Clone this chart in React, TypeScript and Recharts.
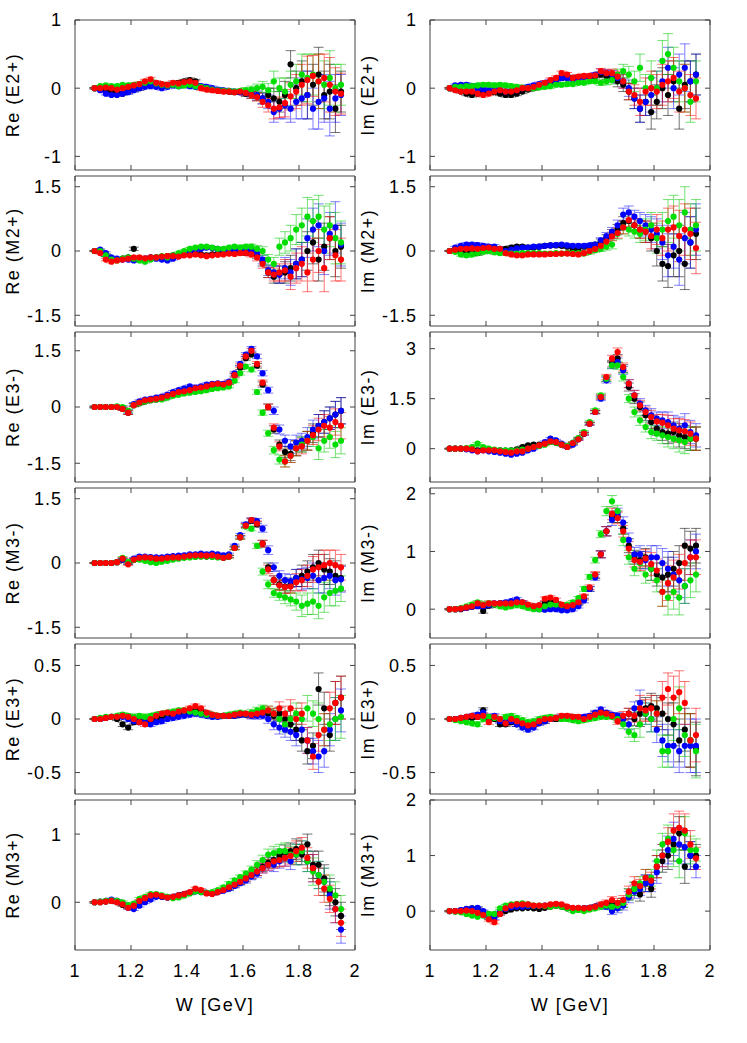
import { ScatterChart, Scatter, XAxis, YAxis, ErrorBar, ReferenceArea } from "recharts";

// W grid (GeV), shared by every panel
const W_GEV = [
  1.07, 1.09, 1.11, 1.13, 1.15, 1.17, 1.19, 1.21, 1.23, 1.25, 1.27, 1.29, 1.31, 1.33, 1.35,
  1.37, 1.39, 1.41, 1.43, 1.45, 1.47, 1.49, 1.51, 1.53, 1.55, 1.57, 1.59, 1.61, 1.63, 1.65,
  1.67, 1.69, 1.71, 1.73, 1.75, 1.77, 1.79, 1.81, 1.83, 1.85, 1.87, 1.89, 1.91, 1.93, 1.95,
];
const X_TICKS = [1, 1.2, 1.4, 1.6, 1.8, 2];

// ---- Re (E2+)
const reE2pBlack = [
  0, -0.02, -0.04, -0.05, -0.07, -0.08, -0.05, -0.02, 0.0, 0.05, 0.08, 0.06, 0.04, 0.05, 0.06,
  0.08, 0.1, 0.12, 0.1, 0.02, 0.0, -0.02, -0.03, -0.04, -0.05, -0.06, -0.06, -0.08, -0.1, -0.12,
  -0.15, -0.1, -0.15, -0.2, -0.1, 0.35, 0.0, 0.1, -0.1, 0.05, 0.2, -0.1, -0.05, -0.3, -0.05,
];
const reE2pBlue = [
  0, -0.03, -0.08, -0.1, -0.1, -0.08, -0.06, -0.03, 0.0, 0.02, 0.03, 0.02, 0.0, 0.02, 0.04,
  0.03, 0.05, 0.03, 0.02, 0.03, 0.02, 0.0, -0.02, -0.03, -0.04, -0.05, -0.06, -0.07, -0.08, -0.1,
  -0.15, -0.2, -0.35, -0.3, -0.25, -0.3, -0.2, -0.15, -0.1, -0.3, -0.2, -0.15, -0.3, -0.15, -0.1,
];
const reE2pGreen = [
  0, 0.03, 0.04, 0.03, 0.03, 0.05, 0.04, 0.05, 0.06, 0.08, 0.1, 0.07, 0.05, 0.04, 0.05,
  0.03, 0.04, 0.05, 0.03, 0.02, 0.0, -0.02, -0.03, -0.04, -0.04, -0.05, -0.04, -0.03, -0.02, 0.0,
  0.02, -0.03, 0.1, 0.0, -0.05, 0.05, 0.1, 0.2, 0.15, 0.2, 0.1, 0.05, 0.15, 0.0, 0.05,
];
const reE2pRed = [
  0, 0.0, 0.01, 0.0, -0.02, 0.0, 0.02, 0.04, 0.06, 0.1, 0.13, 0.08, 0.06, 0.05, 0.08,
  0.07, 0.09, 0.1, 0.08, 0.0, -0.02, -0.03, -0.04, -0.05, -0.05, -0.06, -0.05, -0.07, -0.1, -0.13,
  -0.2, -0.25, -0.3, -0.28, -0.22, -0.12, -0.05, 0.05, 0.12, 0.18, 0.1, 0.15, 0.05, -0.05, -0.08,
];
const reE2pErr = [
  0.01, 0.01, 0.02, 0.02, 0.02, 0.02, 0.03, 0.03, 0.03, 0.03, 0.03, 0.03, 0.03, 0.03, 0.03,
  0.03, 0.03, 0.03, 0.03, 0.03, 0.03, 0.03, 0.03, 0.03, 0.03, 0.03, 0.03, 0.04, 0.05, 0.06,
  0.08, 0.1, 0.15, 0.15, 0.2, 0.2, 0.25, 0.3, 0.35, 0.3, 0.4, 0.35, 0.4, 0.35, 0.3,
];

// ---- Re (M2+)
const reM2pBlack = [
  0, 0.0, -0.1, -0.18, -0.2, -0.18, -0.15, 0.05, -0.18, -0.2, -0.15, -0.15, -0.15, -0.12, -0.1,
  -0.1, -0.08, -0.05, -0.05, -0.08, -0.1, -0.08, -0.06, -0.05, -0.05, -0.05, -0.03, -0.05, -0.05, -0.1,
  -0.25, -0.5, -0.6, -0.55, -0.5, -0.4, -0.3, -0.2, 0.0, 0.2, -0.2, 0.1, 0.3, 0.0, 0.1,
];
const reM2pBlue = [
  0, 0.03, -0.05, -0.15, -0.18, -0.2, -0.2, -0.22, -0.2, -0.18, -0.15, -0.18, -0.2, -0.22, -0.18,
  -0.12, -0.08, -0.05, 0.02, 0.05, 0.08, 0.07, 0.05, 0.03, 0.03, 0.04, 0.03, 0.03, 0.02, -0.05,
  -0.2, -0.45, -0.5, -0.55, -0.4, -0.5, -0.3, -0.2, 0.3, 0.5, 0.6, 0.0, 0.4, 0.55, 0.15,
];
const reM2pGreen = [
  0, 0.0, -0.1, -0.2, -0.22, -0.18, -0.15, -0.18, -0.22, -0.25, -0.2, -0.15, -0.12, -0.15, -0.1,
  -0.05, 0.0, 0.05, 0.08, 0.1, 0.1, 0.08, 0.05, 0.05, 0.08, 0.1, 0.08, 0.1, 0.1, 0.05,
  0.0, -0.2, -0.3, 0.1, 0.2, 0.3, 0.5, 0.6, 0.8, 0.7, 0.8, 0.5, 0.6, 0.3, 0.2,
];
const reM2pRed = [
  0, -0.05, -0.2, -0.25, -0.22, -0.2, -0.18, -0.15, -0.15, -0.17, -0.15, -0.15, -0.13, -0.12, -0.12,
  -0.13, -0.1, -0.1, -0.08, -0.1, -0.12, -0.1, -0.09, -0.08, -0.06, -0.07, -0.05, -0.05, -0.08, -0.15,
  -0.3, -0.5, -0.55, -0.5, -0.45, -0.6, -0.4, -0.3, -0.5, -0.2, 0.0, -0.4, 0.3, -0.1, -0.2,
];
const reM2pErr = [
  0.01, 0.02, 0.03, 0.03, 0.03, 0.03, 0.03, 0.04, 0.03, 0.03, 0.03, 0.03, 0.03, 0.03, 0.03,
  0.03, 0.03, 0.03, 0.03, 0.03, 0.03, 0.03, 0.03, 0.03, 0.03, 0.04, 0.04, 0.05, 0.06, 0.08,
  0.1, 0.12, 0.15, 0.2, 0.25, 0.3, 0.35, 0.4, 0.45, 0.5, 0.5, 0.55, 0.5, 0.6, 0.5,
];

// ---- Re (E3-)
const reE3mBlack = [
  0, 0, 0, 0, 0.0, -0.05, -0.15, 0.05, 0.1, 0.15, 0.18, 0.2, 0.22, 0.28, 0.33,
  0.38, 0.4, 0.43, 0.48, 0.5, 0.52, 0.56, 0.58, 0.6, 0.65, 0.85, 1.05, 1.3, 1.4, 1.1,
  0.6, 0.0, -0.6, -1.0, -1.2, -1.25, -1.1, -1.0, -0.9, -0.7, -0.5, -0.4, -0.3, -0.2, -0.1,
];
const reE3mBlue = [
  0, 0, 0, 0, 0.0, -0.02, -0.12, 0.08, 0.15, 0.2, 0.22, 0.25, 0.28, 0.33, 0.4,
  0.45, 0.5, 0.55, 0.52, 0.55, 0.6, 0.62, 0.63, 0.62, 0.68, 0.9, 1.15, 1.4, 1.55, 1.35,
  0.9, 0.45, -0.1, -0.6, -0.9, -1.05, -0.95, -0.9, -0.8, -0.6, -0.5, -0.4, -0.3, -0.2, -0.1,
];
const reE3mGreen = [
  0, 0, 0, 0, 0.02, 0.0, -0.1, 0.05, 0.1, 0.15, 0.18, 0.2, 0.2, 0.25, 0.3,
  0.33, 0.36, 0.38, 0.4, 0.42, 0.45, 0.48, 0.5, 0.52, 0.55, 0.7, 0.9, 1.08, 1.0, 0.4,
  -0.15, -0.7, -1.15, -1.4, -1.45, -1.3, -1.1, -1.0, -0.9, -0.8, -1.1, -0.9, -0.8, -1.0, -0.9,
];
const reE3mRed = [
  0, 0, 0, 0, 0.0, -0.05, -0.15, 0.05, 0.12, 0.18, 0.2, 0.22, 0.25, 0.3, 0.35,
  0.4, 0.42, 0.45, 0.5, 0.52, 0.55, 0.6, 0.62, 0.6, 0.65, 0.85, 1.1, 1.35, 1.5, 1.15,
  0.65, 0.0, -0.55, -1.05, -1.45, -1.3, -1.1, -1.05, -0.9, -0.75, -0.6, -0.5, -0.55, -0.4, -0.5,
];
const reE3mErr = [
  0.02, 0.02, 0.02, 0.02, 0.03, 0.04, 0.05, 0.04, 0.04, 0.04, 0.04, 0.04, 0.04, 0.04, 0.04,
  0.04, 0.04, 0.04, 0.04, 0.04, 0.04, 0.04, 0.04, 0.04, 0.04, 0.05, 0.05, 0.05, 0.06, 0.06,
  0.07, 0.08, 0.1, 0.12, 0.15, 0.18, 0.2, 0.2, 0.25, 0.25, 0.3, 0.3, 0.3, 0.35, 0.35,
];

// ---- Re (M3-)
const reM3mBlack = [
  0, 0, 0, 0, 0.02, 0.08, 0.0, 0.07, 0.1, 0.1, 0.1, 0.08, 0.08, 0.1, 0.12,
  0.12, 0.14, 0.15, 0.16, 0.16, 0.15, 0.16, 0.14, 0.12, 0.15, 0.35, 0.6, 0.88, 0.98, 0.9,
  0.45, -0.1, -0.4, -0.5, -0.55, -0.5, -0.35, -0.3, -0.2, -0.1, 0.0, -0.15, -0.2, -0.3, -0.35,
];
const reM3mBlue = [
  0, 0, 0, 0, 0.02, 0.08, 0.0, 0.1, 0.15, 0.15, 0.14, 0.13, 0.13, 0.15, 0.16,
  0.17, 0.18, 0.2, 0.2, 0.22, 0.2, 0.22, 0.2, 0.18, 0.2, 0.4, 0.65, 0.9, 1.0, 0.98,
  0.8, 0.3, -0.1, -0.3, -0.4, -0.42, -0.35, -0.38, -0.35, -0.3, -0.4, -0.35, -0.3, -0.4, -0.38,
];
const reM3mGreen = [
  0, 0, 0, 0, 0.02, 0.12, 0.02, 0.07, 0.08, 0.05, 0.02, 0.0, 0.03, 0.05, 0.08,
  0.1, 0.12, 0.13, 0.14, 0.15, 0.15, 0.14, 0.13, 0.12, 0.15, 0.35, 0.6, 0.85, 0.8, 0.4,
  -0.2, -0.5, -0.7, -0.75, -0.8, -0.85, -0.9, -1.0, -0.95, -0.9, -1.0, -0.8, -0.7, -0.65, -0.6,
];
const reM3mRed = [
  0, 0, 0, 0, 0.02, 0.1, -0.03, 0.08, 0.12, 0.13, 0.12, 0.1, 0.1, 0.12, 0.13,
  0.13, 0.15, 0.17, 0.18, 0.18, 0.17, 0.18, 0.15, 0.12, 0.15, 0.35, 0.6, 0.87, 1.0, 0.92,
  0.45, -0.15, -0.4, -0.52, -0.56, -0.55, -0.45, -0.4, -0.3, -0.15, -0.1, -0.05, 0.0, -0.05, -0.1,
];
const reM3mErr = [
  0.01, 0.01, 0.01, 0.02, 0.02, 0.03, 0.03, 0.03, 0.03, 0.03, 0.03, 0.03, 0.03, 0.03, 0.03,
  0.03, 0.03, 0.03, 0.03, 0.03, 0.03, 0.03, 0.03, 0.03, 0.03, 0.04, 0.04, 0.05, 0.05, 0.06,
  0.08, 0.1, 0.1, 0.12, 0.15, 0.15, 0.2, 0.25, 0.25, 0.3, 0.3, 0.35, 0.3, 0.35, 0.3,
];

// ---- Re (E3+)
const reE3pBlack = [
  0, 0.0, 0.01, 0.02, 0.0, -0.05, -0.08, -0.03, -0.02, -0.03, -0.02, 0.0, 0.02, 0.03, 0.04,
  0.05, 0.06, 0.07, 0.08, 0.07, 0.05, 0.03, 0.03, 0.03, 0.03, 0.03, 0.04, 0.04, 0.04, 0.05,
  0.06, 0.05, 0.03, 0.05, 0.0, -0.05, -0.1, -0.2, -0.3, -0.25, 0.28, 0.1, -0.15, 0.15, 0.2,
];
const reE3pBlue = [
  0, 0.0, 0.01, 0.02, 0.02, 0.02, 0.0, -0.02, -0.03, -0.03, -0.05, -0.03, -0.02, 0.0, 0.01,
  0.02, 0.03, 0.04, 0.05, 0.04, 0.03, 0.02, 0.02, 0.03, 0.03, 0.03, 0.04, 0.04, 0.03, 0.03,
  0.03, 0.0, -0.05, -0.08, -0.1, -0.12, -0.15, -0.1, -0.2, -0.3, -0.35, -0.3, -0.1, 0.0, 0.08,
];
const reE3pGreen = [
  0, 0.01, 0.02, 0.02, 0.03, 0.04, 0.03, 0.02, 0.03, 0.02, 0.03, 0.04, 0.05, 0.06, 0.07,
  0.08, 0.08, 0.07, 0.06, 0.05, 0.04, 0.04, 0.03, 0.03, 0.04, 0.05, 0.06, 0.05, 0.06, 0.08,
  0.1, 0.08, 0.05, 0.0, -0.05, 0.0, 0.05, 0.0, 0.1, 0.05, 0.0, -0.1, -0.05, 0.0, 0.02,
];
const reE3pRed = [
  0, 0.0, 0.01, 0.02, 0.02, 0.03, 0.02, 0.0, -0.03, -0.05, 0.0, 0.03, 0.05, 0.06, 0.05,
  0.07, 0.08, 0.1, 0.12, 0.1, 0.06, 0.04, 0.03, 0.03, 0.03, 0.04, 0.05, 0.05, 0.04, 0.05,
  0.06, 0.08, 0.05, 0.1, 0.05, 0.1, 0.0, 0.05, -0.2, -0.35, -0.15, -0.1, 0.1, 0.15, 0.2,
];
const reE3pErr = [
  0.005, 0.01, 0.01, 0.01, 0.015, 0.02, 0.02, 0.02, 0.02, 0.02, 0.02, 0.02, 0.02, 0.02, 0.02,
  0.02, 0.02, 0.02, 0.02, 0.02, 0.02, 0.02, 0.02, 0.02, 0.02, 0.02, 0.02, 0.02, 0.03, 0.03,
  0.03, 0.04, 0.05, 0.06, 0.07, 0.08, 0.1, 0.1, 0.12, 0.12, 0.15, 0.15, 0.15, 0.2, 0.2,
];

// ---- Re (M3+)
const reM3pBlack = [
  0, 0.0, 0.01, 0.02, 0.0, -0.04, -0.07, -0.05, 0.0, 0.04, 0.08, 0.1, 0.08, 0.07, 0.08,
  0.1, 0.12, 0.14, 0.17, 0.16, 0.14, 0.13, 0.15, 0.18, 0.21, 0.25, 0.29, 0.34, 0.39, 0.45,
  0.52, 0.58, 0.62, 0.68, 0.72, 0.75, 0.78, 0.7, 0.85, 0.55, 0.55, 0.35, 0.15, 0.0, -0.2,
];
const reM3pBlue = [
  0, 0.01, 0.02, 0.04, 0.02, -0.02, -0.08, -0.1, -0.05, 0.0, 0.04, 0.08, 0.08, 0.07, 0.08,
  0.1, 0.12, 0.14, 0.16, 0.15, 0.14, 0.13, 0.15, 0.17, 0.2, 0.24, 0.28, 0.32, 0.38, 0.42,
  0.5, 0.55, 0.55, 0.6, 0.65, 0.6, 0.7, 0.75, 0.6, 0.5, 0.4, 0.3, 0.1, -0.1, -0.4,
];
const reM3pGreen = [
  0, 0.01, 0.02, 0.03, 0.02, 0.0, -0.04, -0.02, 0.05, 0.08, 0.12, 0.12, 0.1, 0.08, 0.06,
  0.07, 0.1, 0.13, 0.16, 0.15, 0.14, 0.15, 0.18, 0.22, 0.27, 0.32, 0.37, 0.42, 0.48, 0.55,
  0.62, 0.7, 0.72, 0.75, 0.75, 0.7, 0.7, 0.75, 0.6, 0.45, 0.4, 0.3, 0.2, 0.1, -0.1,
];
const reM3pRed = [
  0, 0.0, 0.01, 0.02, 0.0, -0.03, -0.08, -0.05, 0.02, 0.06, 0.1, 0.11, 0.09, 0.07, 0.08,
  0.1, 0.12, 0.15, 0.2, 0.18, 0.13, 0.12, 0.15, 0.18, 0.22, 0.26, 0.3, 0.35, 0.4, 0.45,
  0.5, 0.55, 0.6, 0.62, 0.65, 0.68, 0.75, 0.8, 0.65, 0.5, 0.3, 0.2, 0.05, -0.1, -0.3,
];
const reM3pErr = [
  0.01, 0.01, 0.01, 0.02, 0.02, 0.02, 0.02, 0.02, 0.02, 0.02, 0.02, 0.02, 0.02, 0.02, 0.02,
  0.02, 0.02, 0.02, 0.02, 0.02, 0.02, 0.02, 0.02, 0.02, 0.03, 0.03, 0.03, 0.04, 0.05, 0.06,
  0.07, 0.08, 0.1, 0.1, 0.12, 0.12, 0.15, 0.15, 0.15, 0.2, 0.2, 0.2, 0.2, 0.2, 0.2,
];

// ---- Im (E2+)
const imE2pBlack = [
  0, -0.02, -0.05, -0.08, -0.1, -0.08, -0.06, -0.05, -0.06, -0.08, -0.1, -0.1, -0.08, -0.05, -0.02,
  0.0, 0.03, 0.06, 0.08, 0.12, 0.15, 0.16, 0.15, 0.16, 0.17, 0.17, 0.18, 0.2, 0.18, 0.15,
  0.1, 0.05, -0.05, -0.15, -0.3, -0.2, -0.35, -0.2, 0.0, -0.1, 0.1, -0.3, 0.05, 0.1, 0.2,
];
const imE2pBlue = [
  0, 0.04, 0.05, 0.05, 0.03, 0.0, -0.02, -0.03, -0.02, -0.03, -0.05, -0.04, -0.03, 0.0, 0.02,
  0.04, 0.06, 0.08, 0.1, 0.12, 0.15, 0.15, 0.13, 0.15, 0.17, 0.17, 0.2, 0.24, 0.22, 0.2,
  0.15, 0.1, 0.0, -0.15, -0.3, -0.2, -0.1, 0.0, 0.1, 0.3, 0.0, 0.2, 0.3, 0.1, 0.2,
];
const imE2pGreen = [
  0, 0.02, 0.02, 0.03, 0.03, 0.04, 0.05, 0.05, 0.04, 0.05, 0.04, 0.03, 0.02, 0.01, 0.0,
  0.0, 0.01, 0.02, 0.03, 0.05, 0.05, 0.06, 0.06, 0.08, 0.08, 0.1, 0.1, 0.08, 0.1, 0.12,
  0.2, 0.25, 0.2, 0.1, 0.3, 0.0, 0.15, 0.0, 0.4, 0.5, 0.3, 0.1, 0.0, -0.2, 0.1,
];
const imE2pRed = [
  0, -0.03, -0.05, -0.05, -0.05, -0.08, -0.1, -0.08, -0.05, -0.03, -0.05, -0.05, -0.03, 0.0, 0.0,
  0.02, 0.05, 0.08, 0.12, 0.15, 0.22, 0.2, 0.15, 0.17, 0.18, 0.18, 0.19, 0.25, 0.22, 0.22,
  0.17, 0.1, -0.05, -0.1, -0.2, -0.05, 0.0, -0.05, 0.05, 0.1, 0.15, -0.05, 0.0, -0.1, -0.15,
];
const imE2pErr = [
  0.01, 0.02, 0.02, 0.03, 0.03, 0.03, 0.03, 0.03, 0.03, 0.03, 0.03, 0.03, 0.03, 0.03, 0.03,
  0.03, 0.03, 0.03, 0.03, 0.03, 0.03, 0.03, 0.03, 0.03, 0.03, 0.03, 0.03, 0.04, 0.05, 0.06,
  0.08, 0.1, 0.12, 0.15, 0.2, 0.2, 0.25, 0.25, 0.3, 0.3, 0.3, 0.3, 0.35, 0.3, 0.3,
];

// ---- Im (M2+)
const imM2pBlack = [
  0, 0.0, -0.02, -0.03, -0.05, -0.05, 0.0, 0.02, 0.03, 0.04, 0.05, 0.08, 0.1, 0.1, 0.08,
  0.08, 0.1, 0.12, 0.13, 0.13, 0.12, 0.1, 0.05, 0.05, 0.1, 0.12, 0.15, 0.22, 0.3, 0.4,
  0.5, 0.65, 0.7, 0.6, 0.5, 0.45, 0.3, 0.0, -0.3, -0.35, -0.1, 0.0, -0.3, 0.2, 0.4,
];
const imM2pBlue = [
  0, 0.08, 0.12, 0.15, 0.15, 0.14, 0.12, 0.1, 0.1, 0.05, 0.0, 0.03, 0.06, 0.08, 0.08,
  0.1, 0.1, 0.12, 0.13, 0.14, 0.15, 0.13, 0.12, 0.12, 0.12, 0.13, 0.15, 0.25, 0.35, 0.45,
  0.6, 0.85, 0.9, 0.8, 0.7, 0.6, 0.5, 0.4, 0.2, -0.1, 0.1, -0.2, 0.3, 0.2, 0.5,
];
const imM2pGreen = [
  0, -0.02, -0.08, -0.1, -0.08, -0.05, -0.02, 0.0, -0.03, -0.05, -0.05, -0.06, -0.06, -0.05, -0.05,
  -0.05, -0.05, -0.06, -0.06, -0.05, -0.06, -0.05, -0.05, -0.05, -0.06, -0.02, 0.02, 0.05, 0.1, 0.15,
  0.4, 0.55, 0.5, 0.45, 0.4, 0.5, 0.6, 0.3, 0.5, 0.7, 0.8, 0.6, 0.9, 0.5, 0.6,
];
const imM2pRed = [
  0, 0.03, 0.05, 0.05, 0.06, 0.05, 0.07, 0.08, 0.05, 0.05, -0.05, -0.08, -0.1, -0.1, -0.08,
  -0.08, -0.08, -0.08, -0.07, -0.07, -0.06, -0.06, -0.07, -0.08, -0.05, 0.0, 0.05, 0.12, 0.22, 0.34,
  0.42, 0.55, 0.72, 0.6, 0.5, 0.45, 0.35, 0.5, 0.3, 0.5, 0.55, 0.35, 0.5, 0.4, 0.07,
];
const imM2pErr = [
  0.01, 0.03, 0.04, 0.05, 0.05, 0.05, 0.05, 0.05, 0.05, 0.04, 0.04, 0.04, 0.04, 0.04, 0.04,
  0.04, 0.04, 0.04, 0.04, 0.04, 0.04, 0.04, 0.04, 0.04, 0.04, 0.05, 0.05, 0.06, 0.08, 0.1,
  0.12, 0.15, 0.15, 0.15, 0.2, 0.25, 0.3, 0.35, 0.4, 0.5, 0.5, 0.6, 0.6, 0.6, 0.6,
];

// ---- Im (E3-)
const imE3mBlack = [
  0, 0, 0, 0.0, -0.02, -0.05, -0.03, -0.03, -0.05, -0.05, -0.06, -0.05, -0.02, 0.05, 0.1,
  0.12, 0.12, 0.15, 0.2, 0.18, 0.12, 0.06, 0.15, 0.3, 0.45, 0.75, 1.1, 1.55, 2.1, 2.55,
  2.7, 2.4, 1.85, 1.5, 1.25, 1.0, 0.8, 0.6, 0.5, 0.45, 0.5, 0.4, 0.35, 0.3, 0.3,
];
const imE3mBlue = [
  0, 0, 0, -0.02, -0.05, -0.08, -0.05, -0.08, -0.1, -0.12, -0.15, -0.18, -0.15, -0.12, -0.05,
  0.0, 0.08, 0.2, 0.3, 0.25, 0.15, 0.05, 0.12, 0.28, 0.45, 0.75, 1.1, 1.5, 2.05, 2.5,
  2.6, 2.35, 1.95, 1.6, 1.35, 1.15, 1.0, 0.9, 0.85, 0.8, 0.7, 0.6, 0.7, 0.5, 0.4,
];
const imE3mGreen = [
  0, 0, 0, 0.02, 0.05, 0.15, 0.05, 0.0, -0.03, -0.05, -0.05, -0.06, -0.05, -0.03, 0.0,
  0.05, 0.08, 0.12, 0.2, 0.18, 0.12, 0.08, 0.18, 0.32, 0.5, 0.8, 1.15, 1.6, 2.1, 2.5,
  2.5, 2.15, 1.5, 1.1, 0.85, 0.65, 0.5, 0.45, 0.4, 0.35, 0.3, 0.25, 0.2, 0.3, 0.3,
];
const imE3mRed = [
  0, 0, 0, 0.0, -0.02, -0.08, -0.05, -0.05, -0.05, -0.08, -0.1, -0.12, -0.08, -0.08, 0.0,
  0.05, 0.1, 0.15, 0.22, 0.2, 0.12, 0.05, 0.17, 0.28, 0.45, 0.75, 1.1, 1.55, 2.15, 2.7,
  2.9, 2.45, 1.95, 1.6, 1.3, 1.1, 0.95, 0.82, 0.78, 0.7, 0.6, 0.55, 0.52, 0.45, 0.3,
];
const imE3mErr = [
  0.01, 0.01, 0.01, 0.02, 0.02, 0.03, 0.03, 0.03, 0.03, 0.03, 0.03, 0.03, 0.03, 0.03, 0.03,
  0.03, 0.03, 0.03, 0.03, 0.03, 0.03, 0.03, 0.03, 0.03, 0.04, 0.04, 0.05, 0.06, 0.08, 0.1,
  0.12, 0.12, 0.12, 0.15, 0.15, 0.15, 0.2, 0.2, 0.25, 0.3, 0.3, 0.35, 0.35, 0.35, 0.35,
];

// ---- Im (M3-)
const imM3mBlack = [
  0, 0.0, 0.0, 0.02, 0.04, 0.06, -0.03, 0.06, 0.08, 0.1, 0.1, 0.11, 0.13, 0.1, 0.06,
  0.05, 0.05, 0.1, 0.12, 0.1, 0.06, 0.04, 0.05, 0.1, 0.2, 0.35, 0.58, 0.95, 1.35, 1.6,
  1.6, 1.4, 1.1, 0.9, 0.85, 0.9, 0.7, 0.6, 0.55, 0.6, 0.7, 0.8, 1.1, 1.05, 1.1,
];
const imM3mBlue = [
  0, 0.0, 0.01, 0.02, 0.04, 0.05, 0.05, 0.07, 0.1, 0.1, 0.12, 0.14, 0.17, 0.12, 0.05,
  0.03, 0.0, -0.01, 0.0, 0.0, -0.02, -0.02, 0.0, 0.05, 0.15, 0.35, 0.55, 0.95, 1.35, 1.55,
  1.65, 1.5, 1.2, 0.95, 0.95, 0.85, 0.9, 0.9, 0.8, 0.7, 0.6, 0.5, 0.4, 0.9, 1.0,
];
const imM3mGreen = [
  0, 0.0, 0.02, 0.05, 0.08, 0.12, 0.08, 0.1, 0.08, 0.05, 0.03, 0.05, 0.07, 0.05, 0.02,
  0.0, 0.0, 0.05, 0.08, 0.08, 0.07, 0.08, 0.12, 0.19, 0.35, 0.56, 0.85, 1.3, 1.7, 1.87,
  1.7, 1.2, 0.9, 0.7, 0.8, 0.6, 0.7, 0.5, 0.3, 0.2, 0.3, 0.2, 0.4, 0.5, 0.6,
];
const imM3mRed = [
  0, 0.0, 0.01, 0.03, 0.05, 0.1, 0.07, 0.1, 0.1, 0.1, 0.1, 0.1, 0.12, 0.12, 0.08,
  0.05, 0.07, 0.18, 0.2, 0.16, 0.08, 0.05, 0.07, 0.12, 0.22, 0.38, 0.6, 0.95, 1.35, 1.65,
  1.58, 1.35, 1.05, 0.85, 0.82, 0.88, 0.78, 0.67, 0.3, 0.45, 0.55, 0.65, 0.8, 0.9, 0.9,
];
const imM3mErr = [
  0.01, 0.01, 0.02, 0.02, 0.03, 0.03, 0.04, 0.04, 0.03, 0.03, 0.03, 0.03, 0.03, 0.03, 0.03,
  0.03, 0.03, 0.03, 0.03, 0.03, 0.03, 0.03, 0.03, 0.03, 0.04, 0.04, 0.05, 0.06, 0.08, 0.1,
  0.1, 0.1, 0.12, 0.12, 0.15, 0.15, 0.2, 0.2, 0.25, 0.3, 0.3, 0.3, 0.3, 0.3, 0.3,
];

// ---- Im (E3+)
const imE3pBlack = [
  0, 0.0, 0.0, 0.01, 0.01, 0.02, 0.08, 0.01, 0.0, -0.05, -0.05, -0.03, -0.05, -0.05, -0.07,
  -0.05, -0.03, -0.02, 0.0, 0.0, 0.01, 0.02, 0.02, 0.01, 0.01, 0.02, 0.05, 0.06, 0.04, 0.03,
  0.02, 0.0, 0.05, 0.0, 0.05, 0.1, 0.12, 0.1, 0.05, 0.0, -0.05, -0.2, -0.1, -0.2, -0.28,
];
const imE3pBlue = [
  0, 0.0, 0.01, 0.02, 0.03, 0.04, 0.06, 0.02, 0.03, -0.02, -0.03, -0.02, -0.05, -0.08, -0.1,
  -0.08, -0.04, -0.02, 0.0, 0.01, 0.02, 0.02, 0.01, 0.01, 0.02, 0.03, 0.06, 0.09, 0.06, 0.04,
  0.03, 0.0, -0.05, 0.1, 0.15, 0.05, 0.0, -0.1, -0.2, -0.25, -0.25, -0.3, -0.25, -0.25, -0.25,
];
const imE3pGreen = [
  0, -0.01, -0.02, -0.03, -0.04, -0.05, 0.0, 0.02, 0.01, 0.0, 0.02, 0.03, 0.01, -0.01, -0.03,
  -0.02, 0.0, 0.01, 0.02, 0.01, 0.0, 0.0, -0.01, -0.02, -0.01, 0.0, 0.01, 0.02, 0.02, 0.02,
  0.0, -0.05, -0.12, -0.15, -0.05, 0.05, 0.0, 0.05, -0.3, -0.3, 0.0, 0.1, -0.15, -0.2, -0.3,
];
const imE3pRed = [
  0, 0.0, 0.01, 0.02, 0.03, 0.02, 0.03, -0.03, 0.02, 0.0, -0.04, 0.0, -0.02, -0.04, -0.06,
  -0.05, -0.02, 0.0, 0.0, 0.01, 0.03, 0.03, 0.02, 0.02, 0.0, 0.02, 0.04, 0.06, 0.05, 0.03,
  -0.02, 0.03, 0.05, 0.03, 0.1, 0.08, 0.1, 0.05, 0.2, 0.28, 0.2, 0.25, 0.15, -0.2, -0.15,
];
const imE3pErr = [
  0.005, 0.01, 0.01, 0.01, 0.015, 0.02, 0.025, 0.02, 0.02, 0.02, 0.02, 0.02, 0.02, 0.02, 0.02,
  0.02, 0.02, 0.02, 0.02, 0.02, 0.02, 0.02, 0.02, 0.02, 0.02, 0.02, 0.02, 0.02, 0.02, 0.02,
  0.03, 0.04, 0.05, 0.06, 0.12, 0.1, 0.12, 0.12, 0.15, 0.15, 0.2, 0.2, 0.2, 0.25, 0.25,
];

// ---- Im (M3+)
const imM3pBlack = [
  0, 0.0, 0.01, 0.03, 0.05, 0.05, -0.02, -0.12, -0.08, -0.05, 0.0, 0.03, 0.05, 0.05, 0.06,
  0.05, 0.04, 0.06, 0.08, 0.1, 0.08, 0.05, 0.04, 0.05, 0.05, 0.06, 0.08, 0.1, 0.12, 0.12,
  0.1, 0.15, 0.3, 0.4, 0.3, 0.5, 0.4, 0.8, 0.9, 1.0, 1.2, 1.4, 0.8, 1.0, 1.0,
];
const imM3pBlue = [
  0, 0.0, 0.02, 0.04, 0.05, 0.06, 0.0, -0.1, -0.12, -0.02, 0.04, 0.07, 0.08, 0.08, 0.09,
  0.09, 0.09, 0.1, 0.11, 0.12, 0.1, 0.07, 0.05, 0.05, 0.05, 0.06, 0.08, 0.1, 0.08, 0.0,
  0.05, 0.1, 0.25, 0.35, 0.4, 0.5, 0.5, 0.7, 1.0, 1.1, 1.3, 1.2, 1.15, 1.0, 0.8,
];
const imM3pGreen = [
  0, -0.01, -0.02, -0.05, -0.08, -0.1, -0.08, -0.05, -0.05, 0.05, 0.1, 0.12, 0.13, 0.14, 0.12,
  0.1, 0.1, 0.09, 0.08, 0.1, 0.08, 0.05, 0.0, 0.02, 0.0, 0.03, 0.05, 0.08, 0.1, 0.08,
  0.1, 0.15, 0.3, 0.4, 0.5, 0.6, 0.6, 0.9, 1.2, 1.3, 1.1, 0.9, 1.4, 1.1, 1.1,
];
const imM3pRed = [
  0, 0.0, 0.0, 0.01, 0.0, -0.03, -0.07, -0.15, -0.2, -0.05, 0.05, 0.1, 0.12, 0.12, 0.12,
  0.1, 0.1, 0.1, 0.12, 0.13, 0.12, 0.08, 0.06, 0.06, 0.05, 0.06, 0.08, 0.12, 0.15, 0.2,
  0.15, 0.2, 0.35, 0.5, 0.45, 0.6, 0.55, 0.8, 1.0, 1.25, 1.45, 1.5, 1.45, 1.2, 0.95,
];
const imM3pErr = [
  0.01, 0.01, 0.01, 0.02, 0.02, 0.02, 0.02, 0.03, 0.03, 0.02, 0.02, 0.02, 0.02, 0.02, 0.02,
  0.02, 0.02, 0.02, 0.02, 0.02, 0.02, 0.02, 0.02, 0.02, 0.02, 0.03, 0.03, 0.04, 0.05, 0.06,
  0.08, 0.08, 0.1, 0.12, 0.12, 0.15, 0.15, 0.2, 0.2, 0.25, 0.3, 0.3, 0.3, 0.25, 0.2,
];

// y tick labels
const TICKS_1 = [-1, 0, 1];
const TICKS_15 = [-1.5, 0, 1.5];
const TICKS_05 = [-0.5, 0, 0.5];
const TICKS_01 = [0, 1];
const TICKS_0153 = [0, 1.5, 3];
const TICKS_012 = [0, 1, 2];

const PANELS = [
  { label: "Re (E2+)", col: 0, row: 0, domain: [-1.2, 1], ticks: TICKS_1, series: [reE2pBlack, reE2pBlue, reE2pGreen, reE2pRed], err: reE2pErr },
  { label: "Re (M2+)", col: 0, row: 1, domain: [-1.75, 1.75], ticks: TICKS_15, series: [reM2pBlack, reM2pBlue, reM2pGreen, reM2pRed], err: reM2pErr },
  { label: "Re (E3-)", col: 0, row: 2, domain: [-2, 2], ticks: TICKS_15, series: [reE3mBlack, reE3mBlue, reE3mGreen, reE3mRed], err: reE3mErr },
  { label: "Re (M3-)", col: 0, row: 3, domain: [-1.75, 1.75], ticks: TICKS_15, series: [reM3mBlack, reM3mBlue, reM3mGreen, reM3mRed], err: reM3mErr },
  { label: "Re (E3+)", col: 0, row: 4, domain: [-0.7, 0.7], ticks: TICKS_05, series: [reE3pBlack, reE3pBlue, reE3pGreen, reE3pRed], err: reE3pErr },
  { label: "Re (M3+)", col: 0, row: 5, domain: [-0.7, 1.5], ticks: TICKS_01, series: [reM3pBlack, reM3pBlue, reM3pGreen, reM3pRed], err: reM3pErr },
  { label: "Im (E2+)", col: 1, row: 0, domain: [-1.2, 1], ticks: TICKS_1, series: [imE2pBlack, imE2pBlue, imE2pGreen, imE2pRed], err: imE2pErr },
  { label: "Im (M2+)", col: 1, row: 1, domain: [-1.75, 1.75], ticks: TICKS_15, series: [imM2pBlack, imM2pBlue, imM2pGreen, imM2pRed], err: imM2pErr },
  { label: "Im (E3-)", col: 1, row: 2, domain: [-1, 3.5], ticks: TICKS_0153, series: [imE3mBlack, imE3mBlue, imE3mGreen, imE3mRed], err: imE3mErr },
  { label: "Im (M3-)", col: 1, row: 3, domain: [-0.5, 2.1], ticks: TICKS_012, series: [imM3mBlack, imM3mBlue, imM3mGreen, imM3mRed], err: imM3mErr },
  { label: "Im (E3+)", col: 1, row: 4, domain: [-0.7, 0.7], ticks: TICKS_05, series: [imE3pBlack, imE3pBlue, imE3pGreen, imE3pRed], err: imE3pErr },
  { label: "Im (M3+)", col: 1, row: 5, domain: [-0.7, 2], ticks: TICKS_012, series: [imM3pBlack, imM3pBlue, imM3pGreen, imM3pRed], err: imM3pErr },
];

const COLORS = ["#000000", "#0000ff", "#00dd00", "#ff0000"];
const ERR_COLORS = ["rgba(0,0,0,0.55)", "rgba(0,0,255,0.5)", "rgba(0,200,0,0.55)", "rgba(255,0,0,0.55)"];

const FONT = '"Liberation Sans", Arial, Helvetica, sans-serif';
const FRAME = "#444444";
const PLOT_LEFT = [75, 430];
const PLOT_TOP = [20, 176, 332, 488, 644, 800];
const PW = 280;
const PH = 150;
const AXIS_W = 70;
const TICK_LEN = 5;

function points(vals: number[], errs: number[]) {
  return W_GEV.map((w, i) => ({ w, v: vals[i], e: errs[i] }));
}

function yTick(props: any) {
  const { x, y, payload } = props;
  return (
    <g>
      <line x1={x} y1={y} x2={x + TICK_LEN} y2={y} stroke={FRAME} />
      <line x1={x + PW} y1={y} x2={x + PW - TICK_LEN} y2={y} stroke={FRAME} />
      <text x={x - 13} y={y} dy="0.36em" textAnchor="end" fontSize={18} letterSpacing={1} fill="#000" fontFamily={FONT}>
        {String(payload.value)}
      </text>
    </g>
  );
}

function makeXTick(showLabel: boolean) {
  return (props: any) => {
    const { x, y, payload } = props;
    return (
      <g>
        <line x1={x} y1={y} x2={x} y2={y - TICK_LEN} stroke={FRAME} />
        <line x1={x} y1={y - PH} x2={x} y2={y - PH + TICK_LEN} stroke={FRAME} />
        {showLabel && (
          <text x={x} y={y + 27} textAnchor="middle" fontSize={18} letterSpacing={1} fill="#000" fontFamily={FONT}>
            {String(payload.value)}
          </text>
        )}
      </g>
    );
  };
}

function Panel({ p }: { p: any }) {
  const left = PLOT_LEFT[p.col] - AXIS_W;
  const top = PLOT_TOP[p.row] - 10;
  const bottomRow = p.row === 5;
  return (
    <div style={{ position: "absolute", left, top }}>
      <ScatterChart width={AXIS_W + PW + 10} height={10 + PH + 35} margin={{ top: 10, right: 10, bottom: 0, left: 0 }}>
        <XAxis
          type="number"
          dataKey="w"
          domain={[1, 2]}
          ticks={X_TICKS}
          interval={0}
          allowDataOverflow
          axisLine={false}
          tickSize={0}
          tickMargin={0}
          height={35}
          tick={makeXTick(bottomRow)}
        />
        <YAxis
          type="number"
          dataKey="v"
          domain={p.domain}
          ticks={p.ticks}
          interval={0}
          allowDataOverflow
          axisLine={false}
          tickSize={0}
          tickMargin={0}
          width={AXIS_W}
          tick={yTick}
        />
        <ReferenceArea x1={1} x2={2} y1={p.domain[0]} y2={p.domain[1]} fill="none" stroke={FRAME} strokeWidth={1} strokeOpacity={1} />
        {p.series.map((vals: number[], i: number) => (
          <Scatter
            key={i}
            data={points(vals, p.err)}
            isAnimationActive={false}
            shape={(s: any) => <circle cx={s.cx} cy={s.cy} r={3.1} fill={COLORS[i]} />}
          >
            <ErrorBar dataKey="e" direction="y" width={5} stroke={ERR_COLORS[i]} strokeWidth={1} />
          </Scatter>
        ))}
      </ScatterChart>
    </div>
  );
}

export default function App() {
  return (
    <div style={{ position: "absolute", left: 0, top: 0, width: 747, height: 1043, background: "#fff", fontFamily: FONT }}>
      {PANELS.map((p) => (
        <Panel key={p.label} p={p} />
      ))}
      <svg width={747} height={1043} style={{ position: "absolute", left: 0, top: 0, pointerEvents: "none" }}>
        {PANELS.map((p) => {
          const cx = PLOT_LEFT[p.col] - 62;
          const cy = PLOT_TOP[p.row] + PH / 2;
          return (
            <text
              key={p.label}
              x={cx}
              y={cy}
              dy="0.36em"
              textAnchor="middle"
              transform={`rotate(-90 ${cx} ${cy})`}
              fontSize={18}
              letterSpacing={1.5}
              fontFamily={FONT}
              fill="#000"
            >
              {p.label}
            </text>
          );
        })}
        {PLOT_LEFT.map((l) => (
          <text key={l} x={l + PW / 2} y={1011} textAnchor="middle" fontSize={18} letterSpacing={1.5} fontFamily={FONT} fill="#000">
            W [GeV]
          </text>
        ))}
      </svg>
    </div>
  );
}
